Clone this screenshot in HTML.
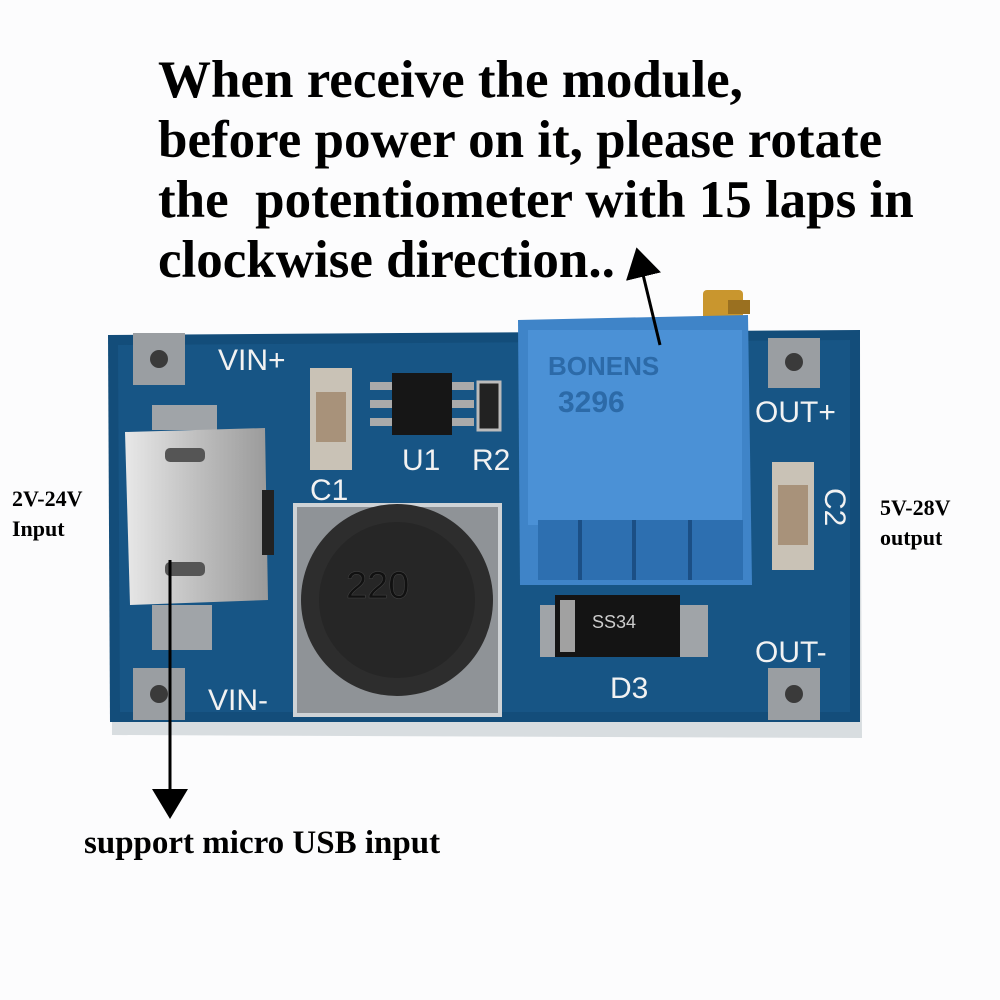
<!DOCTYPE html>
<html><head><meta charset="utf-8"><style>
html,body{margin:0;padding:0;background:#fcfcfd;}
body{width:1000px;height:1000px;position:relative;overflow:hidden;font-family:"Liberation Serif",serif;}
.t{position:absolute;font-weight:bold;color:#000;white-space:nowrap;}
</style></head><body>
<div class="t" style="left:158px;top:50px;font-size:53px;line-height:60px">When receive the module,<br>before power on it, please rotate<br>the&nbsp; potentiometer with 15 laps in<br>clockwise direction..</div>
<svg width="1000" height="1000" style="position:absolute;left:0;top:0">
<defs>
<marker id="ah" markerWidth="10" markerHeight="12" refX="5" refY="6" orient="auto"><path d="M0,0 L10,6 L0,12 z" fill="#000"/></marker>
<linearGradient id="usb" x1="0" x2="1"><stop offset="0" stop-color="#e8e8e8"/><stop offset="0.5" stop-color="#bfbfbf"/><stop offset="1" stop-color="#9a9a9a"/></linearGradient>
</defs>
<path d="M110,345 L860,338 L862,738 L112,735 Z" fill="#d8dde0"/>
<path d="M108,335 L860,330 L860,722 L110,722 Z" fill="#134d7a"/>
<path d="M118,345 L850,340 L850,712 L120,712 Z" fill="#1b5c8c" opacity="0.6"/>
<rect x="133" y="333" width="52" height="52" fill="#9a9ea2"/><circle cx="159" cy="359" r="9" fill="#3a3a3a"/>
<rect x="768" y="338" width="52" height="50" fill="#9a9ea2"/><circle cx="794" cy="362" r="9" fill="#3a3a3a"/>
<rect x="768" y="668" width="52" height="52" fill="#9a9ea2"/><circle cx="794" cy="694" r="9" fill="#3a3a3a"/>
<rect x="133" y="668" width="52" height="52" fill="#9a9ea2"/><circle cx="159" cy="694" r="9" fill="#3a3a3a"/>
<rect x="152" y="405" width="65" height="25" fill="#a0a4a8"/>
<rect x="152" y="605" width="60" height="45" fill="#a0a4a8"/>
<path d="M125,432 L265,428 L268,600 L130,605 Z" fill="url(#usb)"/>
<rect x="165" y="448" width="40" height="14" rx="5" fill="#555"/>
<rect x="165" y="562" width="40" height="14" rx="5" fill="#555"/>
<rect x="262" y="490" width="12" height="65" fill="#222"/>
<rect x="310" y="368" width="42" height="102" fill="#c9c2b6"/>
<rect x="316" y="392" width="30" height="50" fill="#a8927a"/>
<rect x="392" y="373" width="60" height="62" fill="#161616"/>
<rect x="370" y="382" width="22" height="8" fill="#aaa"/><rect x="370" y="400" width="22" height="8" fill="#aaa"/><rect x="370" y="418" width="22" height="8" fill="#aaa"/>
<rect x="452" y="382" width="22" height="8" fill="#aaa"/><rect x="452" y="400" width="22" height="8" fill="#aaa"/><rect x="452" y="418" width="22" height="8" fill="#aaa"/>
<rect x="478" y="382" width="22" height="48" fill="#222" stroke="#bbb" stroke-width="3"/>
<rect x="295" y="505" width="205" height="210" fill="#8f9397" stroke="#cfd3d6" stroke-width="4"/>
<circle cx="397" cy="600" r="96" fill="#2d2d2d"/>
<circle cx="397" cy="600" r="78" fill="#262626"/>
<text x="346" y="598" font-family="Liberation Sans" font-size="38" fill="#111" stroke="#444" stroke-width="0.5">220</text>
<rect x="540" y="605" width="168" height="52" fill="#a0a4a8"/>
<rect x="555" y="595" width="125" height="62" fill="#141414"/>
<rect x="560" y="600" width="15" height="52" fill="#ddd" opacity="0.7"/>
<text x="592" y="628" font-family="Liberation Sans" font-size="18" fill="#ccc">SS34</text>
<rect x="772" y="462" width="42" height="108" fill="#c9c2b6"/>
<rect x="778" y="485" width="30" height="60" fill="#a8927a"/>
<rect x="703" y="290" width="40" height="32" rx="4" fill="#c9962e"/>
<rect x="728" y="300" width="22" height="14" fill="#9a7020"/>
<path d="M518,320 L748,315 L752,585 L520,585 Z" fill="#3f84c8"/>
<rect x="528" y="330" width="214" height="195" fill="#4b91d6"/>
<rect x="538" y="520" width="205" height="60" fill="#2d6fb0"/>
<rect x="578" y="520" width="4" height="60" fill="#1b4f85"/><rect x="632" y="520" width="4" height="60" fill="#1b4f85"/><rect x="688" y="520" width="4" height="60" fill="#1b4f85"/>
<text x="548" y="375" font-family="Liberation Sans" font-size="26" fill="#2c6aa8" font-weight="bold">BONENS</text>
<text x="558" y="412" font-family="Liberation Sans" font-size="30" fill="#2c6aa8" font-weight="bold">3296</text>
<line x1="660" y1="345" x2="640" y2="262" stroke="#000" stroke-width="3" marker-end="url(#ah)"/>
<line x1="170" y1="560" x2="170" y2="804" stroke="#000" stroke-width="3" marker-end="url(#ah)"/>
<g font-family="Liberation Sans" fill="#f2f2f2" font-size="30">
<text x="218" y="370">VIN+</text>
<text x="208" y="710">VIN-</text>
<text x="755" y="422">OUT+</text>
<text x="755" y="662">OUT-</text>
<text x="310" y="500">C1</text>
<text x="402" y="470">U1</text>
<text x="472" y="470">R2</text>
<text x="610" y="698">D3</text>
<text transform="translate(825,488) rotate(90)">C2</text>
</g>
</svg>
<div class="t" style="left:12px;top:484px;font-size:22px;line-height:30px">2V-24V<br>Input</div>
<div class="t" style="left:880px;top:493px;font-size:22px;line-height:30px">5V-28V<br>output</div>
<div class="t" style="left:84px;top:827px;font-size:33px;line-height:33px">support micro USB input</div>
</body></html>
